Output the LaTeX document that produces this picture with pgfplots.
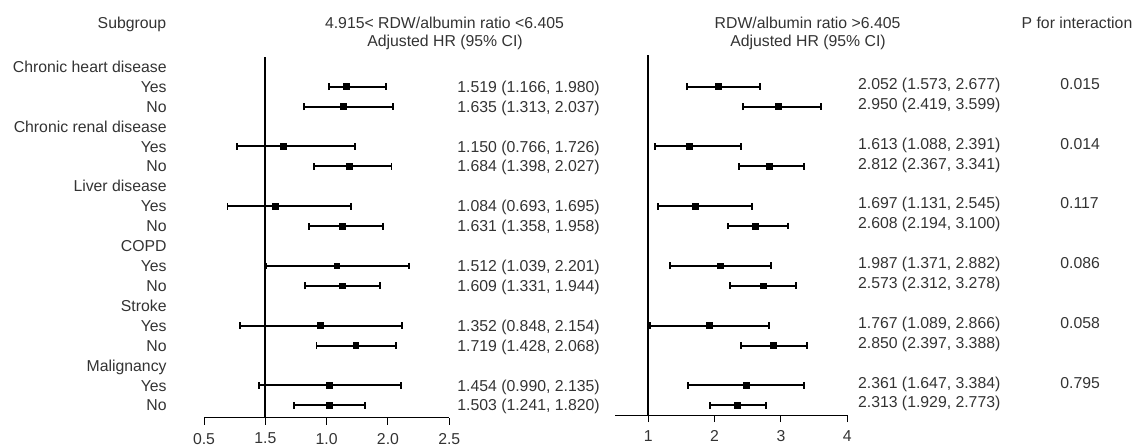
\documentclass[border=0pt]{standalone}
\usepackage{fontspec}
\setmainfont{Liberation Sans}
\usepackage{pgfplots}
\pgfplotsset{compat=1.18}
\usepackage{pgfplotstable}
\newcommand\fs{\fontsize{7.9bp}{9.5bp}\selectfont}
\definecolor{txt}{gray}{0.2}

\pgfplotstableread{
r lo m hi
2 1.520 1.662 1.983
3 1.313 1.634 2.038
5 0.766 1.150 1.730
6 1.395 1.683 2.029
8 0.692 1.084 1.697
9 1.359 1.629 1.961
11 1.008 1.583 2.173
12 1.324 1.629 1.936
14 0.792 1.452 2.114
15 1.417 1.738 2.065
17 0.951 1.525 2.105
18 1.234 1.523 1.814
}\lefttab

\pgfplotstableread{
r lo m hi
2 1.588 2.056 2.689
3 2.428 2.961 3.605
5 1.096 1.624 2.403
6 2.373 2.825 3.353
8 1.146 1.709 2.559
9 2.207 2.620 3.112
11 1.327 2.092 2.855
12 2.227 2.730 3.233
14 1.026 1.916 2.816
15 2.393 2.886 3.389
17 1.599 2.474 3.348
18 1.926 2.342 2.771
}\righttab

\pgfplotsset{
  forest/.style={
    scale only axis, clip=false,
    axis x line*=bottom, axis y line=none,
    x axis line style={-, line width=0.5bp, black},
    xtick pos=bottom, tick align=outside, major tick length=3.5bp,
    xtick style={line width=0.5bp, black},
    ytick=\empty,
    /pgf/number format/assume math mode=true,
    xticklabel style={font=\fs, text=txt, inner sep=0pt, anchor=north, yshift=-4bp},
  },
  errplot/.style={only marks, mark=square*, mark size=1.45bp, black,
    error bars/.cd, x dir=both, x explicit,
    error mark=|,
    error bar style={line width=1bp, black},
    error mark options={mark size=1.7bp, line width=0.9bp, black}},
}

\begin{document}
\begin{tikzpicture}
\useasboundingbox (0,0) rectangle (569.5bp,-223bp);

\begin{axis}[forest,
  at={(102bp,-208.85bp)}, anchor=south west,
  width=122.65bp, height=180.35bp,
  xmin=0.5, xmax=2.5, ymin=-18.62, ymax=-0.508,
  xtick={0.5,1,1.5,2,2.5}, xticklabels={0.5,1.5,1.0,2.0,2.5}]
\addplot[black, line width=1bp] coordinates {(1,-0.508) (1,-18.62)};
\addplot[errplot] table[x=m, y expr=-\thisrow{r},
  x error plus expr=\thisrow{hi}-\thisrow{m},
  x error minus expr=\thisrow{m}-\thisrow{lo}] {\lefttab};
\end{axis}

\begin{axis}[forest,
  at={(307.575bp,-207.5bp)}, anchor=south west,
  width=116.05bp, height=180bp,
  xmin=0.5, xmax=4, ymin=-18.49, ymax=-0.407,
  xtick={1,2,3,4}, xticklabels={1,2,3,4}]
\addplot[black, line width=1bp] coordinates {(1,-0.407) (1,-18.49)};
\addplot[errplot] table[x=m, y expr=-\thisrow{r},
  x error plus expr=\thisrow{hi}-\thisrow{m},
  x error minus expr=\thisrow{m}-\thisrow{lo}] {\righttab};
\end{axis}

\begin{scope}[x=0.5bp, y=-0.5bp, every node/.style={font=\fs, text=txt, inner sep=0pt}]
\node[anchor=base] at (132,28.5) {Subgroup};
\node[anchor=base] at (444.5,28.5) {4.915< RDW/albumin ratio <6.405};
\node[anchor=base] at (445,46.3) {Adjusted HR (95\% CI)};
\node[anchor=base] at (807.6,28.5) {RDW/albumin ratio >6.405};
\node[anchor=base] at (808,46.3) {Adjusted HR (95\% CI)};
\node[anchor=base] at (1077,28.5) {P for interaction};

\foreach \r/\t in {1/{Chronic heart disease},2/Yes,3/No,4/{Chronic renal disease},5/Yes,6/No,
  7/{Liver disease},8/Yes,9/No,10/COPD,11/Yes,12/No,13/Stroke,14/Yes,15/No,
  16/Malignancy,17/Yes,18/No}
  \node[anchor=base east] at (167,{66.8+(\r-1)*19.91+5.65}) {\t};

\foreach \r/\t in {2/{1.519 (1.166, 1.980)},3/{1.635 (1.313, 2.037)},
  5/{1.150 (0.766, 1.726)},6/{1.684 (1.398, 2.027)},
  8/{1.084 (0.693, 1.695)},9/{1.631 (1.358, 1.958)},
  11/{1.512 (1.039, 2.201)},12/{1.609 (1.331, 1.944)},
  14/{1.352 (0.848, 2.154)},15/{1.719 (1.428, 2.068)},
  17/{1.454 (0.990, 2.135)},18/{1.503 (1.241, 1.820)}}
  \node[anchor=base west] at (457,{66.8+(\r-1)*19.91+5.65}) {\t};

\foreach \r/\t in {2/{2.052 (1.573, 2.677)},3/{2.950 (2.419, 3.599)},
  5/{1.613 (1.088, 2.391)},6/{2.812 (2.367, 3.341)},
  8/{1.697 (1.131, 2.545)},9/{2.608 (2.194, 3.100)},
  11/{1.987 (1.371, 2.882)},12/{2.573 (2.312, 3.278)},
  14/{1.767 (1.089, 2.866)},15/{2.850 (2.397, 3.388)},
  17/{2.361 (1.647, 3.384)},18/{2.313 (1.929, 2.773)}}
  \node[anchor=base west] at (857.7,{66.8+(\r-1)*19.91+2.7}) {\t};

\foreach \r/\t in {2/0.015,5/0.014,8/0.117,11/0.086,14/0.058,17/0.795}
  \node[anchor=base west] at (1060,{66.8+(\r-1)*19.91+2.7}) {\t};
\end{scope}
\end{tikzpicture}
\end{document}
